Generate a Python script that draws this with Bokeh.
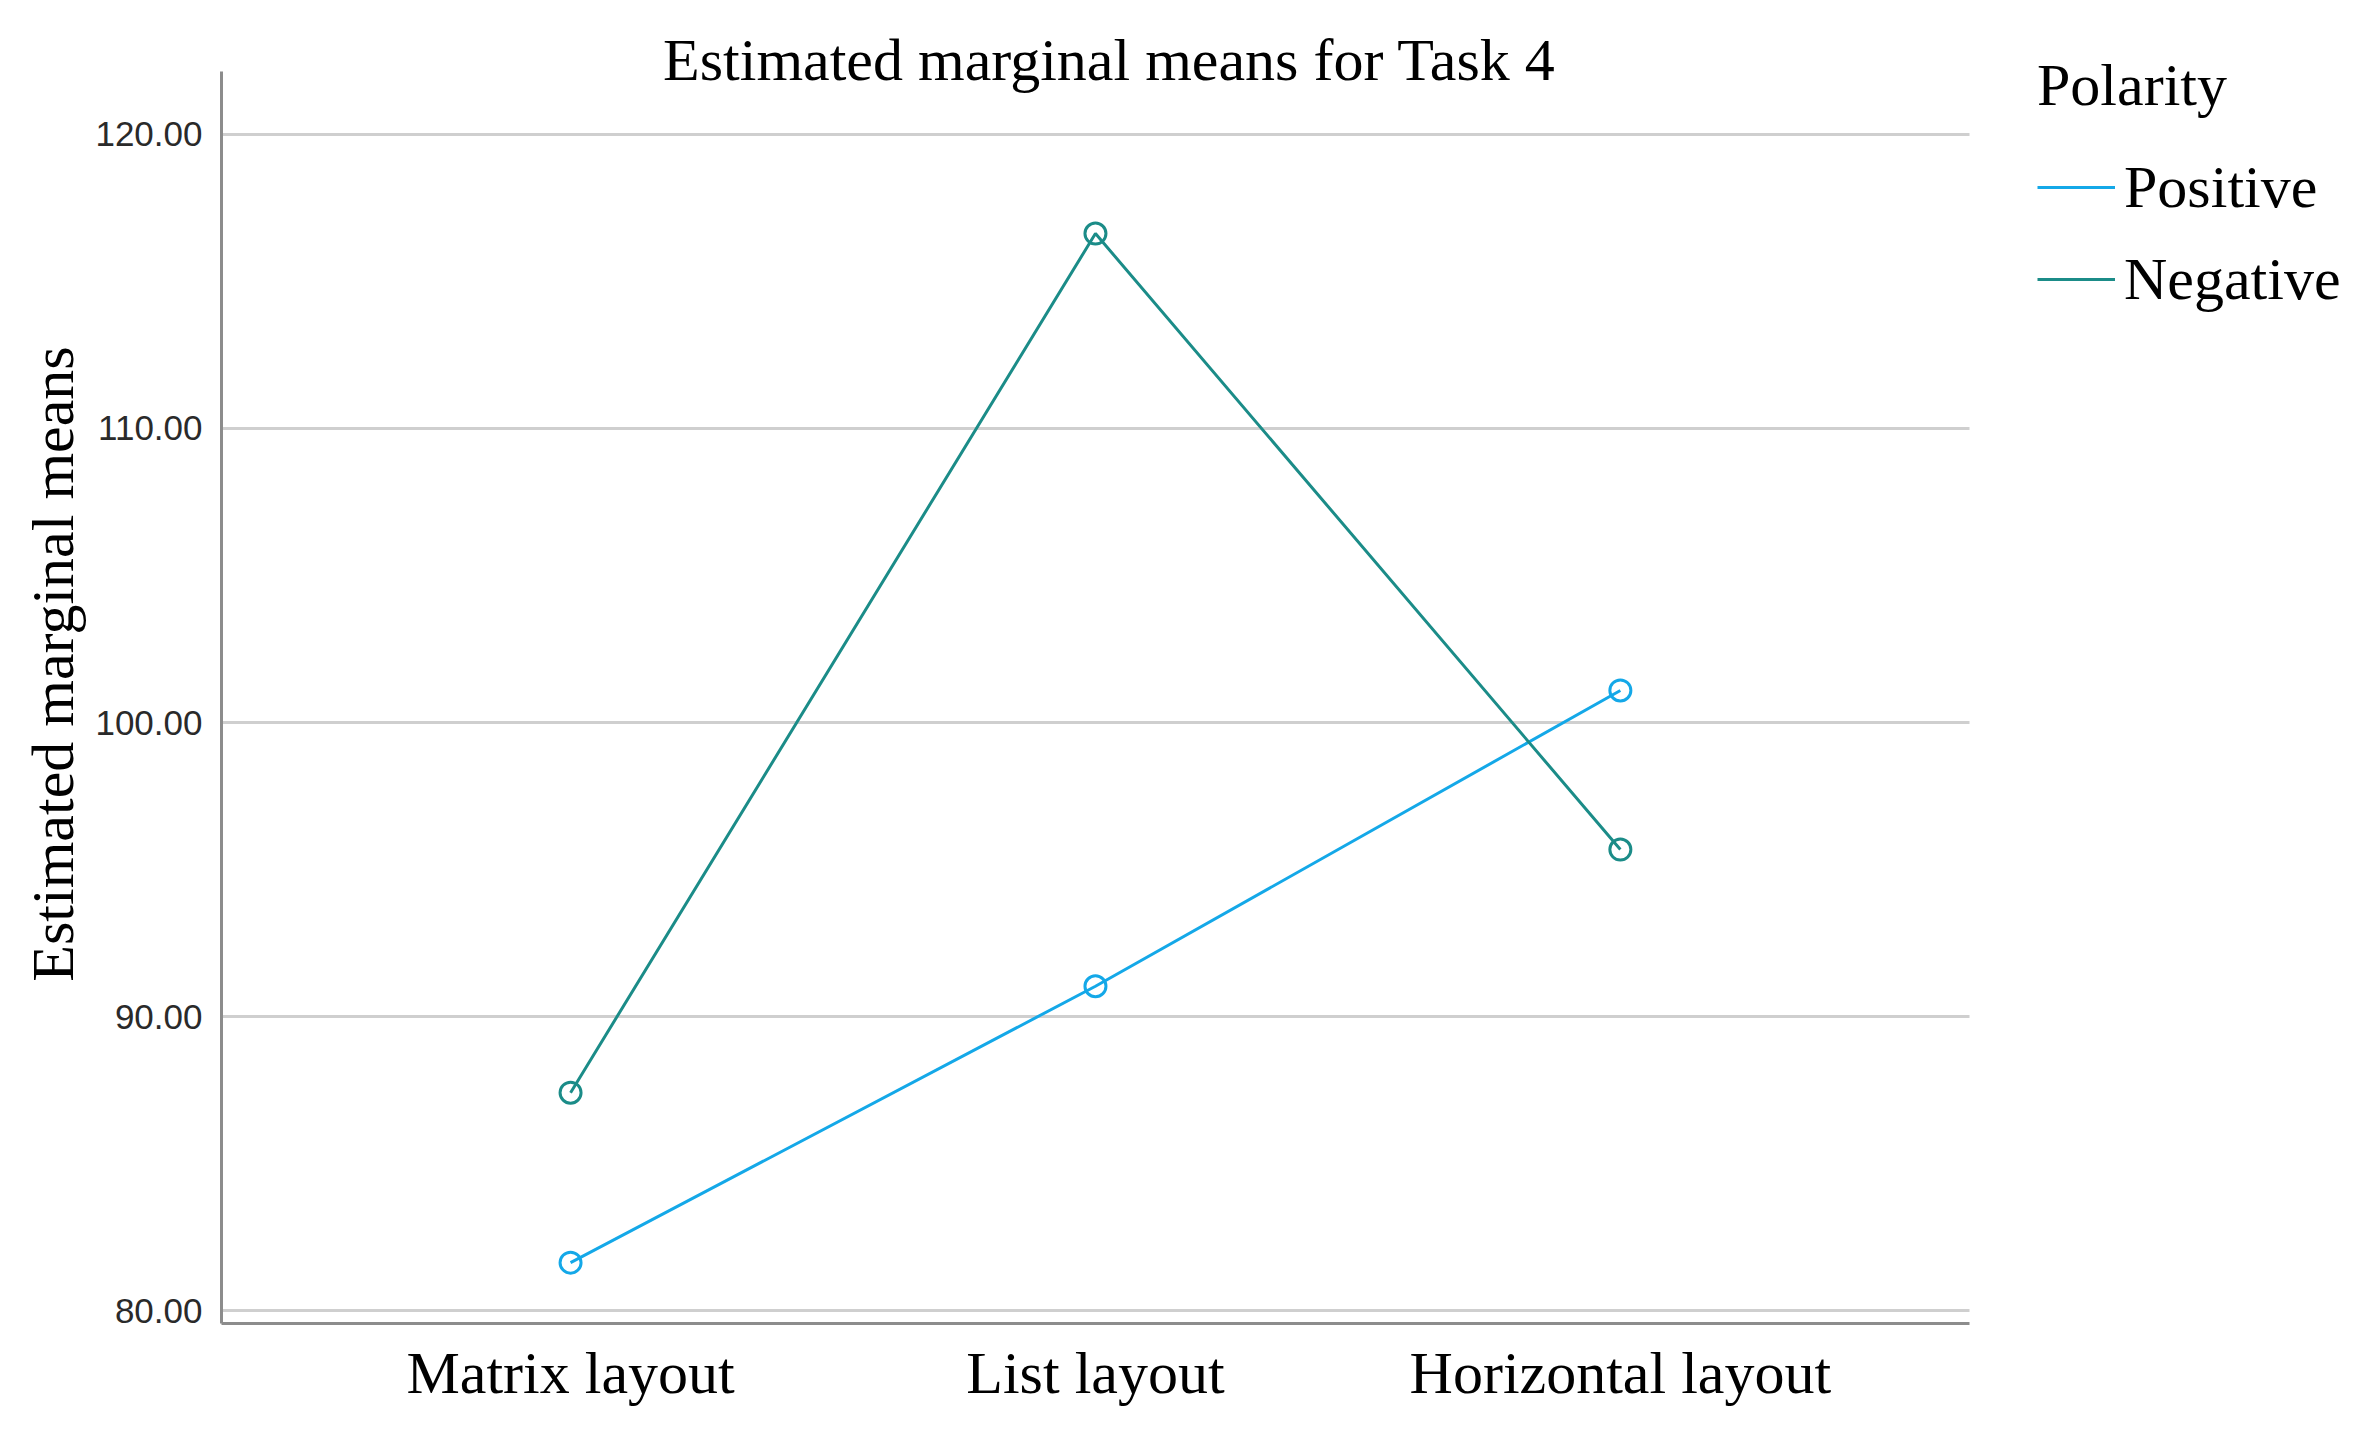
from bokeh.plotting import figure
from bokeh.models import (FixedTicker, NumeralTickFormatter, Legend, LegendItem,
                          Label, ColumnDataSource)
from bokeh.embed import file_html
from bokeh.resources import INLINE

# ---- data ----
categories = ["Matrix layout", "List layout", "Horizontal layout"]
positive = [81.63, 91.03, 101.09]
negative = [87.41, 116.63, 95.68]
y_ticks = [80, 90, 100, 110, 120]
title_text = "Estimated marginal means for Task 4"
y_label = "Estimated marginal means"
legend_title = "Polarity"
series_names = ["Positive", "Negative"]

POS_COLOR = "#14a8e8"
NEG_COLOR = "#1b8c88"
SERIF = "Liberation Serif"
SANS = "Liberation Sans"

xs = list(range(1, len(categories) + 1))

X_LO, X_AXIS_HI, X_HI = 0.335, 3.665, 4.391
Y_LO, Y_HI, Y_AXIS_TOP = 79.56, 124.42, 122.14

p = figure(width=2350, height=1430,
           x_range=(X_LO, X_HI), y_range=(Y_LO, Y_HI),
           min_border_left=221, min_border_right=0,
           min_border_top=4, min_border_bottom=107,
           outline_line_color=None, background_fill_color="white",
           border_fill_color="white",
           output_backend="svg", toolbar_location=None)

# x axis
p.xaxis.ticker = FixedTicker(ticks=xs)
p.xaxis.bounds = (X_LO, X_AXIS_HI)
p.xaxis.major_label_overrides = {x: c for x, c in zip(xs, categories)}
p.xaxis.major_label_text_font = SERIF
p.xaxis.major_label_text_font_size = "60px"
p.xaxis.major_label_text_color = "black"
p.xaxis.major_label_standoff = 10
p.xaxis.major_tick_line_color = None
p.xaxis.minor_tick_line_color = None
p.xaxis.axis_line_color = "#8c8c8c"
p.xaxis.axis_line_width = 3

# y axis
p.yaxis.ticker = FixedTicker(ticks=y_ticks)
p.yaxis.bounds = (Y_LO, Y_AXIS_TOP)
p.yaxis.formatter = NumeralTickFormatter(format="0.00")
p.yaxis.major_label_text_font = SANS
p.yaxis.major_label_text_font_size = "35px"
p.yaxis.major_label_text_color = "#2a2a2a"
p.yaxis.major_label_standoff = 13
p.yaxis.major_tick_line_color = None
p.yaxis.minor_tick_line_color = None
p.yaxis.axis_line_color = "#8c8c8c"
p.yaxis.axis_line_width = 3
p.yaxis.axis_label = y_label
p.yaxis.axis_label_text_font = SERIF
p.yaxis.axis_label_text_font_size = "60px"
p.yaxis.axis_label_text_font_style = "normal"
p.yaxis.axis_label_text_color = "black"
p.yaxis.axis_label_standoff = 6

# grid
p.xgrid.grid_line_color = None
p.ygrid.grid_line_color = "#cfcfcf"
p.ygrid.grid_line_width = 3
p.ygrid.cross_bounds = (X_LO, X_AXIS_HI)

src_pos = ColumnDataSource(dict(x=xs, y=positive))
src_neg = ColumnDataSource(dict(x=xs, y=negative))

l_pos = p.line("x", "y", source=src_pos, line_color=POS_COLOR, line_width=3)
p.scatter("x", "y", source=src_pos, marker="circle", size=21,
          fill_color=None, line_color=POS_COLOR, line_width=3)
l_neg = p.line("x", "y", source=src_neg, line_color=NEG_COLOR, line_width=3)
p.scatter("x", "y", source=src_neg, marker="circle", size=21,
          fill_color=None, line_color=NEG_COLOR, line_width=3)

# title as a label
p.add_layout(Label(x=2, y=122.52, x_offset=14, text=title_text,
                   text_align="center", text_baseline="alphabetic",
                   text_font=SERIF, text_font_size="60px", text_color="black"))

legend = Legend(items=[LegendItem(label=series_names[0], renderers=[l_pos]),
                       LegendItem(label=series_names[1], renderers=[l_neg])],
                location=(1816, 998),
                title=legend_title, title_text_font=SERIF,
                title_text_font_size="60px", title_text_font_style="normal",
                title_text_color="black", title_standoff=21,
                label_text_font=SERIF, label_text_font_size="60px",
                label_text_color="black",
                glyph_width=78, glyph_height=92, label_height=92,
                label_standoff=9, spacing=0, padding=0, margin=0,
                border_line_color=None, background_fill_alpha=0)
p.add_layout(legend, "center")

open("out.html", "w").write(file_html(p, INLINE))
